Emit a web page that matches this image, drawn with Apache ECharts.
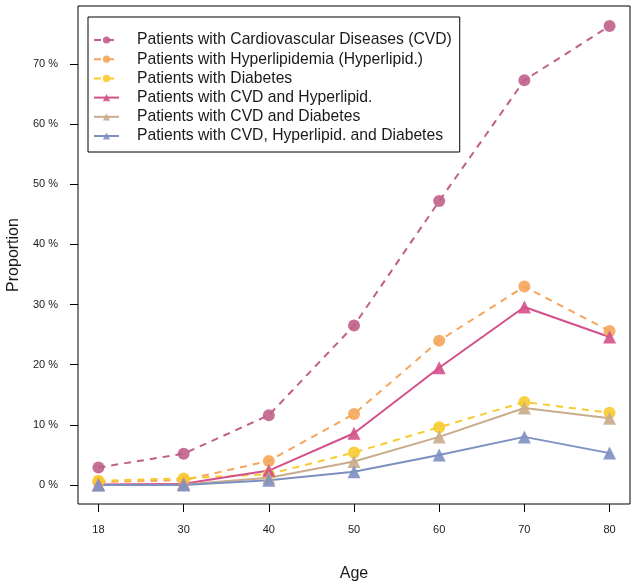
<!DOCTYPE html>
<html>
<head>
<meta charset="utf-8">
<script src="https://cdn.jsdelivr.net/npm/echarts@6/dist/echarts.min.js"></script>
<style>
  html, body { margin: 0; padding: 0; background: #fff; }
  #chart { width: 636px; height: 588px; }
</style>
</head>
<body>
<div id="chart"></div>
<script>
var ages = ['18', '30', '40', '50', '60', '70', '80'];
var yTicks = [0, 10, 20, 30, 40, 50, 60, 70];

// proportions in %
var cvd        = [2.9, 5.2, 11.6, 26.5, 47.2, 67.3, 76.3];
var hyperlip   = [0.5, 0.8, 4.0, 11.8, 24.0, 33.0, 25.6];
var diabetes   = [0.7, 1.1, 1.8, 5.4, 9.6, 13.8, 12.0];
var cvdHyp     = [0.1, 0.2, 2.4, 8.6, 19.5, 29.6, 24.6];
var cvdDia     = [0.0, 0.1, 1.2, 3.9, 8.0, 12.8, 11.1];
var cvdHypDia  = [0.0, 0.0, 0.8, 2.2, 5.0, 8.0, 5.3];

function pts(arr){
  return arr.map(function(v, i){ return [i + 1, v]; });
}

var chart = echarts.init(document.getElementById('chart'));

function mk(name, arr, color, dashed, symbol, size){
  return {
    name: name,
    type: 'line',
    data: pts(arr),
    symbol: symbol,
    symbolSize: size,
    showSymbol: true,
    lineStyle: { color: color, width: 2, type: dashed ? [7, 6] : 'solid' },
    itemStyle: { color: color, opacity: 0.9 },
    emphasis: { disabled: true },
    animation: false
  };
}

var option = {
  backgroundColor: '#fff',
  textStyle: { fontFamily: 'Liberation Sans, Arial, sans-serif' },
  grid: {
    left: 78, right: 6, top: 6, bottom: 84,
    containLabel: false, outerBoundsMode: 'none',
    show: true, borderColor: '#000', borderWidth: 1
  },
  legend: {
    orient: 'vertical',
    left: 88, top: 17,
    backgroundColor: '#fff',
    borderColor: '#000',
    borderWidth: 1,
    padding: [15, 8, 8, 5],
    itemWidth: 25,
    itemHeight: 9,
    itemGap: 3.2,
    textStyle: { fontSize: 15.7, lineHeight: 16, color: '#1a1a1a', padding: [0, 0, 0, 13] },
    data: [
      'Patients with Cardiovascular Diseases (CVD)',
      'Patients with Hyperlipidemia (Hyperlipid.)',
      'Patients with Diabetes',
      'Patients with CVD and Hyperlipid.',
      'Patients with CVD and Diabetes',
      'Patients with CVD, Hyperlipid. and Diabetes'
    ]
  },
  xAxis: {
    type: 'value',
    min: 0.76, max: 7.24,
    name: 'Age',
    nameLocation: 'middle',
    nameGap: 62,
    nameTextStyle: { fontSize: 16, color: '#1a1a1a' },
    axisLine: { show: false, onZero: false },
    axisTick: { show: true, length: 8, customValues: [1, 2, 3, 4, 5, 6, 7], lineStyle: { color: '#000' } },
    axisLabel: {
      customValues: [1, 2, 3, 4, 5, 6, 7],
      margin: 20,
      fontSize: 11,
      color: '#1a1a1a',
      formatter: function(v){ return ages[Math.round(v) - 1]; }
    },
    splitLine: { show: false }
  },
  yAxis: {
    type: 'value',
    min: -3.16, max: 79.64,
    name: 'Proportion',
    nameLocation: 'middle',
    nameGap: 55,
    nameTextStyle: { fontSize: 16, color: '#1a1a1a' },
    axisLine: { show: false, onZero: false },
    axisTick: { show: true, length: 8, customValues: yTicks, lineStyle: { color: '#000' } },
    axisLabel: {
      customValues: yTicks,
      margin: 20,
      fontSize: 11,
      color: '#1a1a1a',
      formatter: function(v){ return v + ' %'; }
    },
    splitLine: { show: false }
  },
  series: [
    mk('Patients with Cardiovascular Diseases (CVD)', cvd, '#C0608A', true, 'circle', 12),
    mk('Patients with Hyperlipidemia (Hyperlipid.)', hyperlip, '#F5A65B', true, 'circle', 12),
    mk('Patients with Diabetes', diabetes, '#F7CB2D', true, 'circle', 12),
    mk('Patients with CVD and Hyperlipid.', cvdHyp, '#D4508A', false, 'triangle', 13),
    mk('Patients with CVD and Diabetes', cvdDia, '#C9AC8B', false, 'triangle', 13),
    mk('Patients with CVD, Hyperlipid. and Diabetes', cvdHypDia, '#7E90C2', false, 'triangle', 13)
  ]
};
chart.setOption(option);
</script>
</body>
</html>
